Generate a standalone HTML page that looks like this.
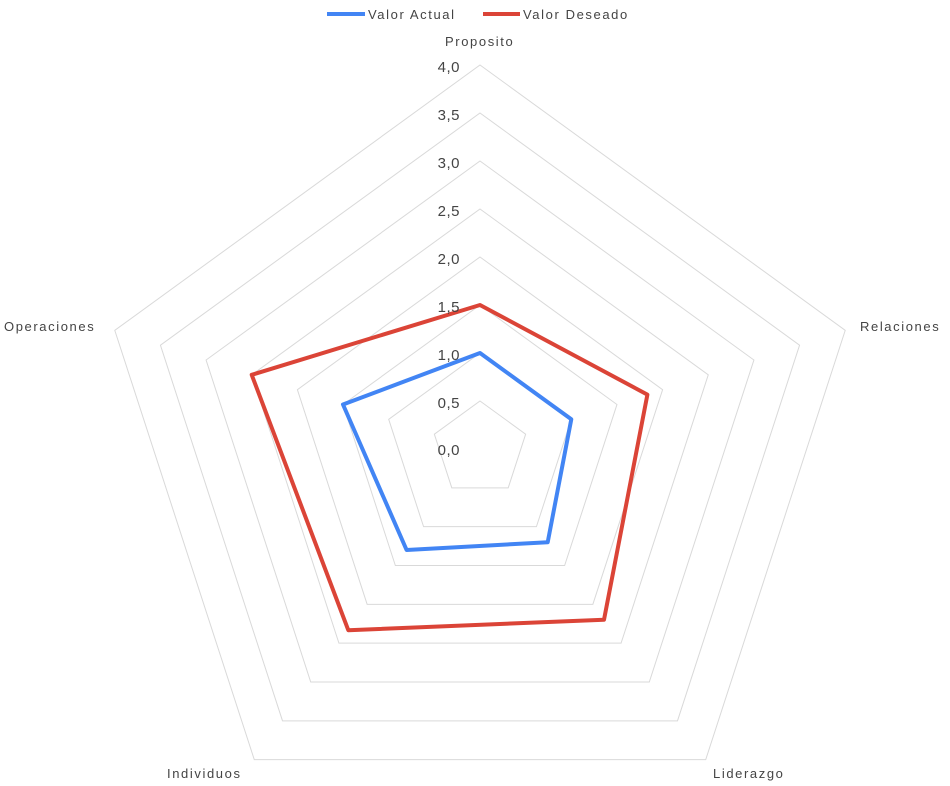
<!DOCTYPE html>
<html><head><meta charset="utf-8"><style>
body{margin:0;background:#fff;}
svg{display:block;font-family:"Liberation Sans",Arial,sans-serif;}
</style></head><body>
<svg width="950" height="786" viewBox="0 0 950 786">
<rect width="950" height="786" fill="#fff"/>
<g fill="none" stroke="#d9d9d9" stroke-width="1">
<g transform="translate(480,449)">
<polygon vector-effect="non-scaling-stroke" transform="scale(48)" points="0,-1 0.9511,-0.309 0.5878,0.809 -0.5878,0.809 -0.9511,-0.309"/>
<polygon vector-effect="non-scaling-stroke" transform="scale(96)" points="0,-1 0.9511,-0.309 0.5878,0.809 -0.5878,0.809 -0.9511,-0.309"/>
<polygon vector-effect="non-scaling-stroke" transform="scale(144)" points="0,-1 0.9511,-0.309 0.5878,0.809 -0.5878,0.809 -0.9511,-0.309"/>
<polygon vector-effect="non-scaling-stroke" transform="scale(192)" points="0,-1 0.9511,-0.309 0.5878,0.809 -0.5878,0.809 -0.9511,-0.309"/>
<polygon vector-effect="non-scaling-stroke" transform="scale(240)" points="0,-1 0.9511,-0.309 0.5878,0.809 -0.5878,0.809 -0.9511,-0.309"/>
<polygon vector-effect="non-scaling-stroke" transform="scale(288)" points="0,-1 0.9511,-0.309 0.5878,0.809 -0.5878,0.809 -0.9511,-0.309"/>
<polygon vector-effect="non-scaling-stroke" transform="scale(336)" points="0,-1 0.9511,-0.309 0.5878,0.809 -0.5878,0.809 -0.9511,-0.309"/>
<polygon vector-effect="non-scaling-stroke" transform="scale(384)" points="0,-1 0.9511,-0.309 0.5878,0.809 -0.5878,0.809 -0.9511,-0.309"/>
</g></g>
<polygon fill="none" stroke="#4285f4" stroke-width="4" stroke-linejoin="round" points="480,353 571.3,419.3 547.7,542.2 406.6,550 343,404.5"/>
<polygon fill="none" stroke="#db4437" stroke-width="4" stroke-linejoin="round" points="480,305 647.4,394.6 604,619.7 348.3,630.2 251.7,374.8"/>
<g font-size="15" fill="#444" text-anchor="end" letter-spacing="0.5">
<text x="460" y="72">4,0</text>
<text x="460" y="120">3,5</text>
<text x="460" y="168">3,0</text>
<text x="460" y="216">2,5</text>
<text x="460" y="264">2,0</text>
<text x="460" y="312">1,5</text>
<text x="460" y="360">1,0</text>
<text x="460" y="408">0,5</text>
<text x="460" y="455">0,0</text>
</g>
<g font-size="13" fill="#444" letter-spacing="1.6">
<text x="445" y="46">Proposito</text>
<text x="860" y="331">Relaciones</text>
<text x="4" y="331">Operaciones</text>
<text x="167" y="778">Individuos</text>
<text x="713" y="778">Liderazgo</text>
<text x="368" y="19">Valor Actual</text>
<text x="523" y="19">Valor Deseado</text>
</g>
<line x1="327" y1="14" x2="365" y2="14" stroke="#4285f4" stroke-width="4"/>
<line x1="483" y1="14" x2="520" y2="14" stroke="#db4437" stroke-width="4"/>
</svg>
</body></html>
